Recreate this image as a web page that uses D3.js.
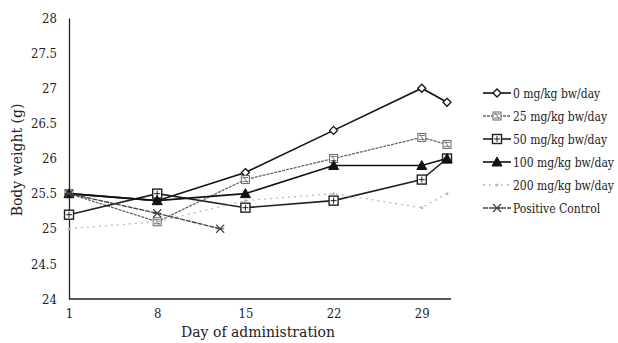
<!DOCTYPE html>
<html><head><meta charset="utf-8">
<script src="https://cdn.jsdelivr.net/npm/d3@7"></script>
<style>body{margin:0;background:#fff}svg{display:block}text{font-family:"DejaVu Serif","Liberation Serif",serif;fill:#222}</style>
</head><body><svg id="c" width="618" height="343"></svg>
<script>
const days = [1, 8, 15, 22, 29, 31];
const pcDays = [1, 8, 13];
const seriesNames = ["0 mg/kg bw/day","25 mg/kg bw/day","50 mg/kg bw/day","100 mg/kg bw/day","200 mg/kg bw/day","Positive Control"];
const v0 = [25.5, 25.4, 25.8, 26.4, 27.0, 26.8];
const v25 = [25.5, 25.1, 25.7, 26.0, 26.3, 26.2];
const v50 = [25.2, 25.5, 25.3, 25.4, 25.7, 26.0];
const v100 = [25.5, 25.4, 25.5, 25.9, 25.9, 26.0];
const v200 = [25.0, 25.1, 25.4, 25.5, 25.3, 25.5];
const vPC = [25.5, 25.22, 25.0];
const yTicks = [24, 24.5, 25, 25.5, 26, 26.5, 27, 27.5, 28];
const xTicks = [1, 8, 15, 22, 29];

const svg = d3.select("#c");
const x = d3.scaleLinear().domain([1, 31]).range([69, 447]);
const y = d3.scaleLinear().domain([24, 28]).range([299, 18]);

svg.append("g").attr("transform","translate(69,0)")
  .call(d3.axisLeft(y).tickValues(yTicks).tickFormat(d=>d).tickSize(0).tickPadding(12))
  .call(g=>{g.select(".domain").attr("stroke","#222").attr("stroke-width",1.3);g.selectAll("text").attr("font-size",13).style("font-family","DejaVu Serif Condensed, DejaVu Serif");});
svg.append("g").attr("transform","translate(0,299)")
  .call(d3.axisBottom(x).tickValues(xTicks).tickSize(0).tickPadding(10))
  .call(g=>{g.select(".domain").attr("stroke","#222").attr("stroke-width",1.3).attr("d","M69,0H451");g.selectAll("text").attr("font-size",13).style("font-family","DejaVu Serif Condensed, DejaVu Serif");});

svg.append("text").attr("x",258).attr("y",337).attr("text-anchor","middle").attr("font-size",14).text("Day of administration");
svg.append("text").attr("transform","translate(22,160) rotate(-90)").attr("text-anchor","middle").attr("font-size",14).text("Body weight (g)");

const series = [
  {vals:v0, xs:days, color:"#111", w:1.6, dash:null, marker:"diamond"},
  {vals:v25, xs:days, color:"#666", w:1.3, dash:"3,1", marker:"sq25"},
  {vals:v50, xs:days, color:"#222", w:1.6, dash:null, marker:"square"},
  {vals:v100, xs:days, color:"#111", w:1.6, dash:null, marker:"triangle"},
  {vals:v200, xs:days, color:"#bbb", w:1.3, dash:"2,4", marker:"dot"},
  {vals:vPC, xs:pcDays, color:"#444", w:1.4, dash:"5,1", marker:"x"}
];

function drawMarker(g, type, cx, cy, color){
  if(type==="diamond") g.append("path").attr("d",`M${cx},${cy-4}L${cx+4},${cy}L${cx},${cy+4}L${cx-4},${cy}Z`).attr("fill","#fff").attr("stroke",color).attr("stroke-width",1.3);
  else if(type==="sq25"){ g.append("rect").attr("x",cx-4).attr("y",cy-4).attr("width",8).attr("height",8).attr("fill","#fff").attr("stroke",color).attr("stroke-width",1);
    g.append("path").attr("d",`M${cx-3},${cy-2}H${cx+3}M${cx-3},${cy+2}H${cx+3}M${cx-2},${cy-3}L${cx+2},${cy+3}`).attr("stroke",color).attr("stroke-width",0.9);}
  else if(type==="square"){ g.append("rect").attr("x",cx-4.5).attr("y",cy-4.5).attr("width",9).attr("height",9).attr("fill","#fff").attr("stroke",color).attr("stroke-width",1.4);
    g.append("path").attr("d",`M${cx-3},${cy}H${cx+3}M${cx},${cy-3}V${cy+3}`).attr("stroke",color).attr("stroke-width",1);}
  else if(type==="triangle") g.append("path").attr("d",`M${cx},${cy-5}L${cx+5},${cy+4}L${cx-5},${cy+4}Z`).attr("fill",color).attr("stroke",color).attr("stroke-width",1);
  else if(type==="dot") g.append("circle").attr("cx",cx).attr("cy",cy).attr("r",1.5).attr("fill","#bbb");
  else if(type==="x") g.append("path").attr("d",`M${cx-4},${cy-4}L${cx+4},${cy+4}M${cx+4},${cy-4}L${cx-4},${cy+4}M${cx-4},${cy}H${cx+4}`).attr("stroke",color).attr("stroke-width",1.2);
}

const line = d3.line().x(d=>x(d[0])).y(d=>y(d[1]));
series.forEach(s=>{
  const pts = s.xs.map((d,i)=>[d, s.vals[i]]);
  const g = svg.append("g");
  g.append("path").attr("d",line(pts)).attr("fill","none").attr("stroke",s.color).attr("stroke-width",s.w).attr("stroke-dasharray",s.dash);
  pts.forEach(p=>drawMarker(g, s.marker, x(p[0]), y(p[1]), s.color));
});

// legend
const legY = d3.scalePoint().domain(seriesNames).range([93, 208]);
series.forEach((s,i)=>{
  const yy = legY(seriesNames[i]);
  const g = svg.append("g");
  g.append("line").attr("x1",483).attr("x2",511).attr("y1",yy).attr("y2",yy).attr("stroke",s.color).attr("stroke-width",s.w).attr("stroke-dasharray",s.dash);
  drawMarker(g, s.marker, 497, yy, s.color);
  g.append("text").attr("x",513).attr("y",yy+4.5).attr("font-size",12).style("font-family","DejaVu Serif Condensed, DejaVu Serif").text(seriesNames[i]);
});
</script></body></html>
